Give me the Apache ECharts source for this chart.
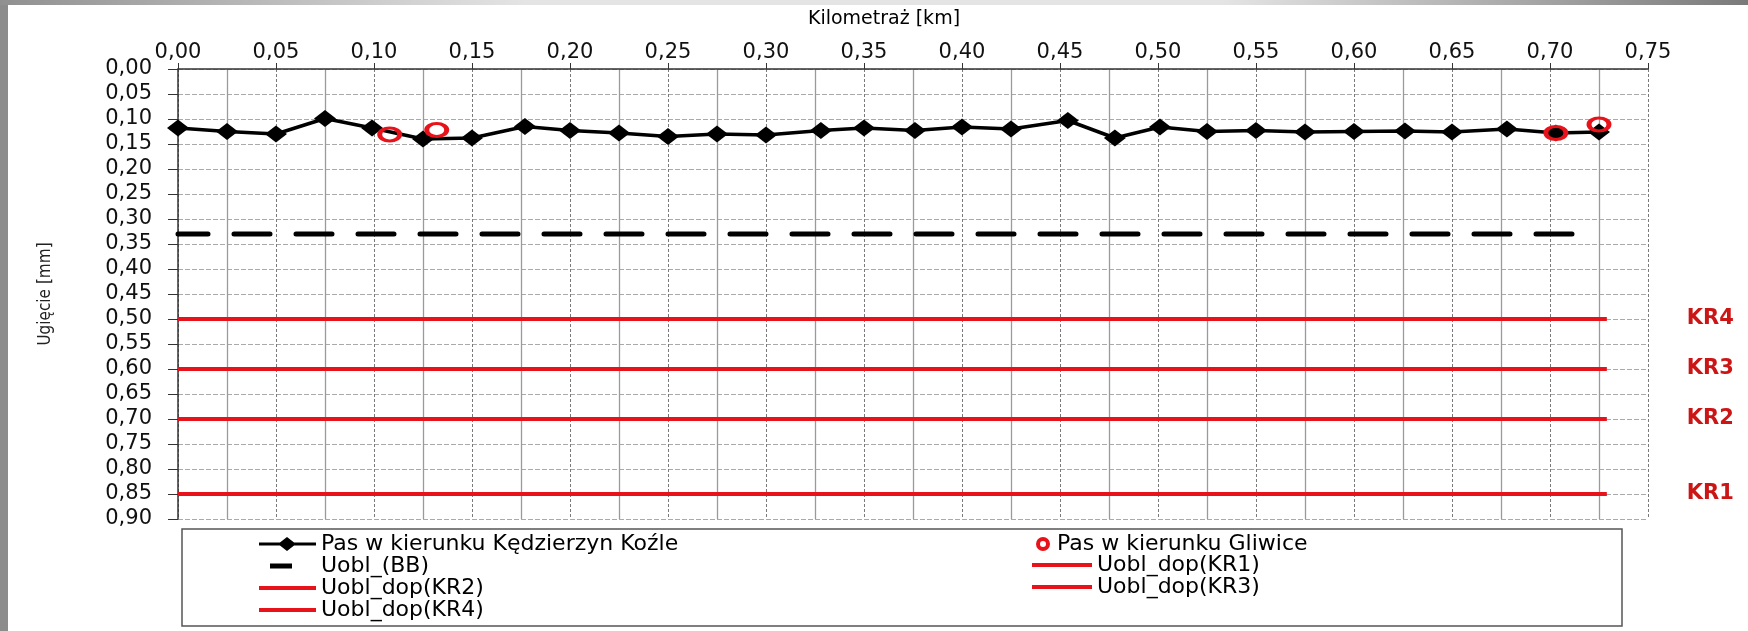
<!DOCTYPE html>
<html><head><meta charset="utf-8">
<script src="https://cdn.jsdelivr.net/npm/echarts/dist/echarts.min.js"></script>
<style>html,body{margin:0;padding:0;background:#fff}#c{width:1748px;height:631px}</style>
</head><body><div id="c"></div>
<script>
// ---- data ----
const kmKK  = [0.000,0.025,0.050,0.075,0.099,0.125,0.150,0.177,0.200,0.225,0.250,0.275,0.300,0.328,0.350,0.376,0.400,0.425,0.454,0.478,0.501,0.525,0.550,0.575,0.600,0.626,0.650,0.678,0.703,0.725];
const defKK = [0.118,0.125,0.130,0.099,0.118,0.140,0.138,0.115,0.123,0.128,0.135,0.130,0.132,0.123,0.118,0.123,0.116,0.120,0.103,0.138,0.116,0.125,0.123,0.126,0.125,0.124,0.126,0.120,0.128,0.126];
const kmGL  = [0.108,0.132,0.703,0.725];
const defGL = [0.131,0.122,0.128,0.111];
const bbKm = [0, 0.720];
const bbValue = 0.33;
const krKm = [0, 0.729];
const krLabels = ['KR1','KR2','KR3','KR4'];
const krValues = [0.85, 0.70, 0.60, 0.50];
const nameKK = 'Pas w kierunku Kędzierzyn Koźle';
const nameGL = 'Pas w kierunku Gliwice';
const nameBB = 'Uobl_(BB)';
const krNames = krLabels.map(k => 'Uobl_dop(' + k + ')');
const xTitle = 'Kilometraż [km]';
const yTitle = 'Ugięcie [mm]';

const RED = '#e8121a';
const FONT = "'DejaVu Sans', Arial, sans-serif";
const fmt = v => v.toFixed(2).replace('.', ',');

const chart = echarts.init(document.getElementById('c'), null, {renderer: 'canvas'});

const series = [
  {
    name: nameKK, type: 'line', z: 3,
    data: kmKK.map((x, i) => [x, defKK[i]]),
    symbol: 'diamond', symbolSize: [22, 17],
    lineStyle: {color: '#000', width: 3.5},
    itemStyle: {color: '#000'},
    silent: true
  },
  {
    name: nameGL, type: 'scatter', z: 5,
    data: kmGL.map((x, i) => [x, defGL[i]]),
    symbol: 'circle', symbolSize: [20, 13],
    itemStyle: {color: 'rgba(255,255,255,0)', borderColor: RED, borderWidth: 4, opacity: 1},
    silent: true
  },
  {
    name: nameBB, type: 'line', z: 2,
    data: bbKm.map(x => [x, bbValue]),
    symbol: 'none',
    lineStyle: {color: '#000', width: 5, type: [36, 26], dashOffset: 6, cap: 'round'},
    itemStyle: {color: '#000'},
    silent: true
  }
];
krLabels.forEach((k, i) => {
  series.push({
    name: krNames[i], type: 'line', z: 2,
    data: krKm.map(x => [x, krValues[i]]),
    symbol: 'none',
    lineStyle: {color: RED, width: 4},
    itemStyle: {color: RED},
    endLabel: {show: true, formatter: k, color: '#cc1515', fontWeight: 'bold', fontSize: 21, fontFamily: FONT, distance: 80},
    silent: true
  });
});

const legendText = {fontSize: 22, lineHeight: 21, color: '#000', fontFamily: FONT};
const lineIcon57 = 'path://M0,0M57,14M0,5L57,5L57,9L0,9Z';
const lineIcon60 = 'path://M0,0M60,14M0,5L60,5L60,9L0,9Z';

const option = {
  animation: false,
  backgroundColor: '#fff',
  grid: {left: 178, right: 100, top: 69, bottom: 112, containLabel: false},
  xAxis: {
    type: 'value', position: 'top', min: 0, max: 0.75, interval: 0.05,
    name: xTitle, nameLocation: 'middle', nameGap: 40,
    nameTextStyle: {fontSize: 19, color: '#000', fontFamily: FONT, padding: [0, 58, 0, 0]},
    axisLine: {show: true, lineStyle: {color: '#333', width: 1.5}},
    axisTick: {show: true, inside: false, length: 6, lineStyle: {color: '#333'}},
    axisLabel: {formatter: fmt, fontSize: 21, color: '#111', fontFamily: FONT, margin: 6},
    splitLine: {show: true, lineStyle: {color: '#7a7a7a', type: [3, 2], width: 1}},
    minorTick: {show: false, splitNumber: 2},
    minorSplitLine: {show: true, lineStyle: {color: '#9a9a9a', width: 1.3}}
  },
  yAxis: {
    type: 'value', inverse: true, min: 0, max: 0.9, interval: 0.05,
    name: yTitle, nameLocation: 'middle', nameGap: 124, nameRotate: 90,
    nameTextStyle: {fontSize: 17, color: '#222', fontFamily: "'DejaVu Sans Condensed','Liberation Sans Narrow','Liberation Sans',sans-serif"},
    axisLine: {show: true, lineStyle: {color: '#333', width: 1.5}},
    axisTick: {show: true, inside: false, length: 10, lineStyle: {color: '#333'}},
    axisLabel: {formatter: fmt, fontSize: 21, color: '#111', fontFamily: FONT, margin: 26},
    splitLine: {show: true, lineStyle: {color: '#aaa', type: [5, 2], width: 1}}
  },
  legend: [
    {
      orient: 'vertical', left: 259, top: 533, height: 100, itemWidth: 57, itemHeight: 14, itemGap: 0,
      selectedMode: false, textStyle: legendText, padding: 0,
      data: [
        {name: nameKK, icon: 'path://M0,0M57,14M0,5.5L57,5.5L57,8.5L0,8.5Z M28,0L37,7L28,14L19,7Z'},
        {name: nameBB, icon: 'path://M0,0M57,14M11,4.5L33,4.5L33,9.5L11,9.5Z'},
        {name: krNames[1], icon: lineIcon57},
        {name: krNames[3], icon: lineIcon57}
      ]
    },
    {
      orient: 'vertical', left: 1036, top: 533, height: 40, itemWidth: 18, itemHeight: 10,
      selectedMode: false, textStyle: legendText, padding: 0,
      data: [{name: nameGL, icon: 'circle', itemStyle: {color: '#fff', borderColor: RED, borderWidth: 4}}]
    },
    {
      orient: 'vertical', left: 1032, top: 554, height: 80, itemWidth: 60, itemHeight: 14, itemGap: 0,
      selectedMode: false, textStyle: legendText, padding: 0,
      data: [{name: krNames[0], icon: lineIcon60}, {name: krNames[2], icon: lineIcon60}]
    }
  ],
  graphic: [
    {type: 'rect', shape: {x: 0, y: 0, width: 8, height: 631}, style: {fill: '#8c8c8c'}, silent: true},
    {type: 'rect', shape: {x: 0, y: 0, width: 1748, height: 5}, silent: true,
     style: {fill: new echarts.graphic.LinearGradient(0, 0, 1, 0, [
       {offset: 0, color: '#909090'}, {offset: 0.3, color: '#e4e4e4'},
       {offset: 0.7, color: '#e4e4e4'}, {offset: 1, color: '#7a7a7a'}])}},
    {type: 'rect', shape: {x: 182, y: 529, width: 1440, height: 97}, silent: true,
     style: {fill: 'none', stroke: '#555', lineWidth: 1.5}}
  ],
  series: series
};
chart.setOption(option);
</script></body></html>
